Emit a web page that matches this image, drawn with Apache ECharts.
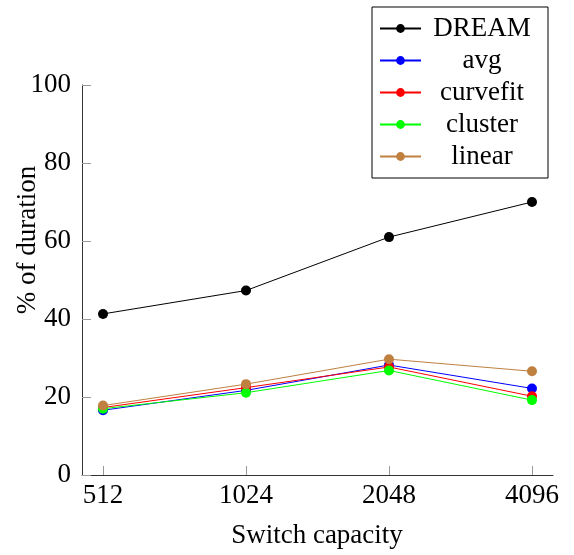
<!DOCTYPE html>
<html>
<head>
<meta charset="utf-8">
<style>
  html, body { margin: 0; padding: 0; background: #fff; }
  #chart { width: 574px; height: 555px; }
</style>
<script src="https://cdn.jsdelivr.net/npm/echarts@6/dist/echarts.min.js"></script>
</head>
<body>
<div id="chart"></div>
<script>
// Switch capacities on the x axis
const capacities = ['512', '1024', '2048', '4096'];
// Share of duration (%) for each method
const dream    = [41.3, 47.3, 61.0, 70.0];
const avg      = [16.6, 21.7, 28.2, 22.2];
const curvefit = [17.3, 22.4, 27.7, 20.2];
const cluster  = [17.0, 21.1, 26.8, 19.2];
const linear   = [17.8, 23.3, 29.7, 26.6];
const yTicks = [0, 20, 40, 60, 80, 100];

const FONT = 'Liberation Serif';
const chart = echarts.init(document.getElementById('chart'), null, { renderer: 'canvas' });

function mkSeries(name, values, color) {
  return {
    name: name,
    type: 'line',
    data: values.map((v, i) => [i, v]),
    symbol: 'circle',
    symbolSize: 10,
    lineStyle: { color: color, width: 1 },
    itemStyle: { color: color },
    emphasis: { disabled: true },
    animation: false
  };
}

chart.setOption({
  backgroundColor: '#fff',
  grid: { left: 82, right: 21, top: 85, bottom: 80, containLabel: false },
  xAxis: {
    type: 'value',
    min: -0.147,
    max: 3.147,
    axisLine: { show: true, onZero: false, lineStyle: { color: '#333', width: 1 } },
    axisTick: { show: true, inside: true, length: 9, customValues: [0, 1, 2, 3], lineStyle: { color: '#999' } },
    axisLabel: {
      customValues: [0, 1, 2, 3],
      formatter: v => capacities[Math.round(v)],
      color: '#000', fontFamily: FONT, fontSize: 27, margin: 7
    },
    splitLine: { show: false }
  },
  yAxis: {
    type: 'value',
    min: yTicks[0],
    max: yTicks[yTicks.length - 1],
    interval: 20,
    axisLine: { show: true, onZero: false, lineStyle: { color: '#333', width: 1 } },
    axisTick: { show: true, inside: true, length: 9, lineStyle: { color: '#999' } },
    axisLabel: {
      formatter: v => String(v),
      color: '#000', fontFamily: FONT, fontSize: 27, margin: 11
    },
    splitLine: { show: false }
  },
  legend: {
    orient: 'vertical',
    left: 372,
    top: 7,
    padding: [8, 10, 8, 7],
    itemGap: 5,
    itemWidth: 41,
    itemHeight: 11,
    backgroundColor: '#fff',
    borderColor: '#000',
    borderWidth: 1,
    borderRadius: 0,
    selectedMode: false,
    formatter: name => '{c|' + name + '}',
    textStyle: {
      fontFamily: FONT, fontSize: 27, color: '#000',
      rich: { c: { width: 112, align: 'center', fontFamily: FONT, fontSize: 27, color: '#000', lineHeight: 27 } }
    },
    data: ['DREAM', 'avg', 'curvefit', 'cluster', 'linear']
  },
  graphic: [
    {
      type: 'text',
      x: 28, y: 240, rotation: Math.PI / 2,
      style: { text: '% of duration', fontFamily: FONT, fontSize: 27, fill: '#000', align: 'center', verticalAlign: 'middle' }
    },
    {
      type: 'text',
      x: 317, y: 536,
      style: { text: 'Switch capacity', fontFamily: FONT, fontSize: 27, fill: '#000', align: 'center', verticalAlign: 'middle' }
    }
  ],
  series: [
    mkSeries('DREAM', dream, '#000000'),
    mkSeries('avg', avg, '#0000ff'),
    mkSeries('curvefit', curvefit, '#ff0000'),
    mkSeries('cluster', cluster, '#00ff00'),
    mkSeries('linear', linear, '#bf8040')
  ]
});
</script>
</body>
</html>
